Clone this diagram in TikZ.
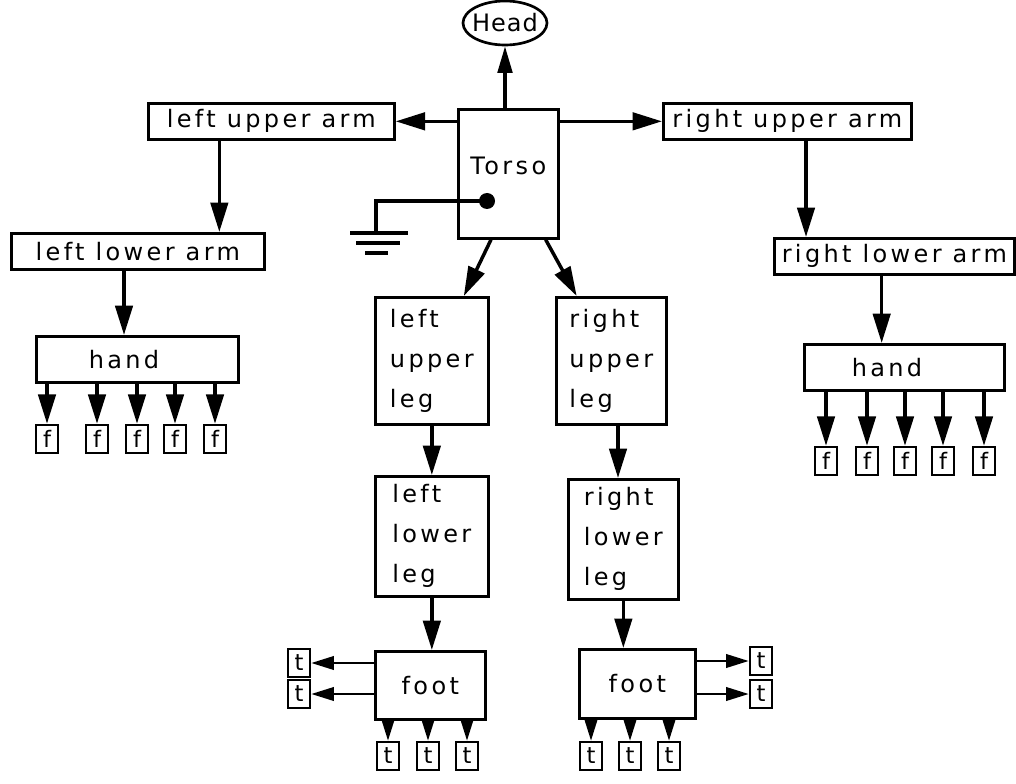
\documentclass[tikz,border=0pt]{standalone}
\usepackage{fontspec}
\setmainfont{DejaVu Sans}[LetterSpace=14]
\usetikzlibrary{arrows.meta,shapes.geometric}
\begin{document}
\begin{tikzpicture}[x=0.75pt,y=-0.75pt,
  box/.style={draw,line width=2pt,inner sep=0pt,font=\fontsize{18}{22}\selectfont},
  nw/.style={anchor=north west},
  wh/.style 2 args={minimum width=#1*0.75pt,minimum height=#2*0.75pt},
  small/.style={box,wh={22}{28},line width=1.8pt,font=\fontsize{17}{18}\selectfont},
  legbox/.style={box,nw,align=left,font=\fontsize{18}{30}\selectfont},
  big/.style={line width=2.6pt,-{Triangle[length=22pt,width=13pt]}},
  mid/.style={line width=2.4pt,-{Triangle[length=20pt,width=11pt]}},
  toe/.style={line width=2pt,-{Triangle[length=17pt,width=10pt]}},
  gnd/.style={line width=2.8pt}
]
\useasboundingbox (0,0) rectangle (1016,784);

% head and torso
\node[box,ellipse,wh={84}{44}] (head) at (505,23) {\makebox[0pt]{\addfontfeature{LetterSpace=4}Head}};
\node[box,nw,wh={100}{129},text depth=12pt] (torso) at (457,108) {Torso};

% arms
\node[box,nw,wh={246}{36}] (lua) at (147,102) {left upper arm};
\node[box,nw,wh={248}{36}] (rua) at (662,102) {right upper arm};
\node[box,nw,wh={253}{36}] (lla) at (10,232) {left lower arm};
\node[box,nw,wh={240}{36}] (rla) at (773,237) {right lower arm};
\node[box,nw,wh={202}{46}] (lhand) at (35,335) {hand\hspace*{20pt}};
\node[box,nw,wh={200}{46}] (rhand) at (803,343) {hand\hspace*{26pt}};

% fingers
\foreach \i/\x in {1/47,2/97,3/137,4/175,5/215}
  \node[small] (lf\i) at (\x,439) {f};
\foreach \i/\x in {1/826,2/867,3/905,4/943,5/984}
  \node[small] (rf\i) at (\x,461) {f};

% legs
\node[legbox,wh={113}{127}] (lul) at (374,296) {left\\upper\\leg};
\node[legbox,wh={110}{127}] (rul) at (555,296) {right\\upper\\leg};
\node[legbox,wh={113}{120}] (lll) at (374,475) {left\\lower\\leg};
\node[legbox,wh={110}{120}] (rll) at (567,478) {right\\lower\\leg};
\node[box,nw,wh={110}{68}] (lfoot) at (374,650) {foot};
\node[box,nw,wh={116}{69}] (rfoot) at (578,648) {foot};

% toes
\node[small] (lt1) at (299,663) {t};
\node[small] (lt2) at (299,694) {t};
\node[small] (rt1) at (761,661) {t};
\node[small] (rt2) at (761,694) {t};
\foreach \i/\x in {3/388,4/428,5/467}
  \node[small] (lt\i) at (\x,756) {t};
\foreach \i/\x in {3/591,4/630,5/669}
  \node[small] (rt\i) at (\x,756) {t};

% connectors
\draw[mid] (torso.north -| head.south) -- (head.south);
\draw[big] (torso.west |- lua.east) -- (lua.east);
\draw[big] (torso.east |- rua.west) -- (rua.west);
\draw[big] ([xshift=-39pt]lua.south) -- ([xshift=-39pt]lua.south |- lla.north);
\draw[big] ([xshift=14pt]rua.south) -- ([xshift=14pt]rua.south |- rla.north);
\draw[big] ([xshift=-10pt]lhand.north |- lla.south) -- ([xshift=-10pt]lhand.north);
\draw[big] ([xshift=-17pt]rhand.north |- rla.south) -- ([xshift=-17pt]rhand.north);
\foreach \i in {1,...,5} {
  \draw[big] (lhand.south -| lf\i.north) -- (lf\i.north);
  \draw[big] (rhand.south -| rf\i.north) -- (rf\i.north);
}
\draw[big] ([xshift=-13pt]torso.south) -- ([xshift=24pt]lul.north);
\draw[big] ([xshift=28pt]torso.south) -- ([xshift=-26pt]rul.north);
\draw[big] (lul.south) -- (lul.south |- lll.north);
\draw[big] ([xshift=-4pt]rll.north |- rul.south) -- ([xshift=-4pt]rll.north);
\draw[big] (lll.south) -- (lll.south |- lfoot.north);
\draw[big] (rll.south) -- (rll.south |- rfoot.north);
\draw[toe] (lfoot.west |- lt1.east) -- (lt1.east);
\draw[toe] (lfoot.west |- lt2.east) -- (lt2.east);
\draw[toe] (rfoot.east |- rt1.west) -- (rt1.west);
\draw[toe] (rfoot.east |- rt2.west) -- (rt2.west);
\foreach \i in {3,4,5} {
  \draw[toe] (lfoot.south -| lt\i.north) -- (lt\i.north);
  \draw[toe] (rfoot.south -| rt\i.north) -- (rt\i.north);
}

% ground connection
\coordinate (dot) at (487,201);
\fill (dot) circle (6pt);
\draw[gnd] (dot) -| (376,233);
\draw[gnd] (350,233) -- (408,233);
\draw[gnd] (356,243) -- (400,243);
\draw[gnd] (365,253) -- (388,253);
\end{tikzpicture}
\end{document}
